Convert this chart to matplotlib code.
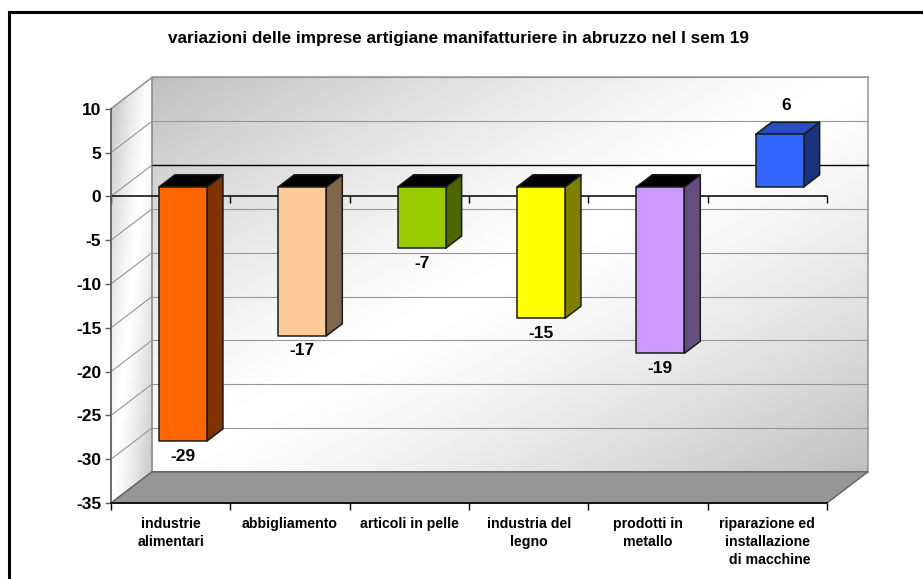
import matplotlib
matplotlib.use("Agg")
import matplotlib.pyplot as plt
import numpy as np
from matplotlib.patches import Polygon, Rectangle

plt.rcParams["font.family"] = ["Liberation Sans", "DejaVu Sans"]
plt.rcParams["font.weight"] = "bold"

TITLE = "variazioni delle imprese artigiane manifatturiere in abruzzo nel I sem 19"
categories = [
    "industrie\nalimentari",
    "abbigliamento",
    "articoli in pelle",
    "industria del\nlegno",
    "prodotti in\nmetallo",
    "riparazione ed\ninstallazione\n di macchine",
]
values = [-29, -17, -7, -15, -19, 6]
y_ticks = [10, 5, 0, -5, -10, -15, -20, -25, -30, -35]

front_colors = ["#FF6600", "#FFCC99", "#99CC00", "#FFFF00", "#CC99FF", "#3366FF"]
side_colors = ["#803300", "#80664D", "#4D6600", "#808000", "#664D80", "#19337F"]
top_colors = ["#000000", "#000000", "#000000", "#000000", "#000000", "#264DBF"]

W, H = 923, 579
# 3d look: how far the back wall is shifted, in category / value units
DEPTH_X = 41 / 119.33
DEPTH_Y = 31.2 / 8.76
BAR_WIDTH = 48 / 119.33


def wall_gradient(x0, x1, y0, y1, clip, ax):
    # grey in two opposite corners, white along the other diagonal
    xs, ys = np.meshgrid(np.linspace(0, 1, 300), np.linspace(0, 1, 300))
    t = (xs + (1 - ys)) / 2
    grey = 1 - 0.25 * (np.abs(t - 0.5) * 2) ** 1.3
    im = ax.imshow(grey, cmap="gray", vmin=0, vmax=1, extent=(x0, x1, y0, y1),
                   origin="lower", aspect="auto", zorder=1)
    # images get cut to the axes box otherwise, the walls stick out of it
    im.set_clip_box(ax.figure.bbox)
    im.set_clip_path(clip)


fig = plt.figure(figsize=(W / 100, H / 100), dpi=100, facecolor="white")
# outer frame of the original slide
fig.add_artist(Rectangle((9 / W, -0.02), 1.1, 1 - 11.5 / H + 0.02, transform=fig.transFigure,
                         fill=False, ec="black", lw=2.2))

ax = fig.add_axes([111 / W, 1 - 503 / H, (827 - 111) / W, (503 - 108.7) / H])
ax.set_facecolor("none")

# walls and floor
back = Rectangle((DEPTH_X, -35 + DEPTH_Y), 6, 45, fc="none", ec="#939393", lw=1.1, zorder=2, clip_on=False)
side = Polygon([(0, -35), (0, 10), (DEPTH_X, 10 + DEPTH_Y), (DEPTH_X, -35 + DEPTH_Y)],
               closed=True, fc="none", ec="#939393", lw=1, zorder=2, clip_on=False)
floor = Polygon([(0, -35), (6, -35), (6 + DEPTH_X, -35 + DEPTH_Y), (DEPTH_X, -35 + DEPTH_Y)],
                closed=True, fc="#969696", ec="#606060", lw=1, zorder=3, clip_on=False)
ax.add_patch(back)
ax.add_patch(side)
ax.add_patch(floor)

ax.set_xlim(0, 6)
ax.set_ylim(-35, 10)
wall_gradient(DEPTH_X, 6 + DEPTH_X, -35 + DEPTH_Y, 10 + DEPTH_Y, back, ax)
wall_gradient(0, DEPTH_X, -35, 10 + DEPTH_Y, side, ax)
ax.set_xlim(0, 6)
ax.set_ylim(-35, 10)

# gridlines on back and side wall
for v in y_ticks[:-1]:
    color = "black" if v == 0 else "#969696"
    lw = 1.0 if v == 0 else 0.8
    ax.plot([DEPTH_X, 6 + DEPTH_X], [v + DEPTH_Y, v + DEPTH_Y], color=color, lw=lw, zorder=3, clip_on=False)
    ax.plot([0, DEPTH_X], [v, v + DEPTH_Y], color="#969696", lw=0.8, zorder=3, clip_on=False)

# zero axis with its own downward ticks
ax.plot([0, 6], [0, 0], color="black", lw=1.1, zorder=4, clip_on=False)
ax.plot(np.arange(7), np.zeros(7), ls="none", marker=3, ms=5, mew=1, color="black", zorder=4, clip_on=False)

# bars, front face at the middle of the depth
for i, (v, fc, sc, tc) in enumerate(zip(values, front_colors, side_colors, top_colors)):
    x0 = i + 0.5 - BAR_WIDTH / 2 + DEPTH_X * 0.3
    x1 = x0 + BAR_WIDTH
    base = DEPTH_Y * 0.3
    dx = DEPTH_X * 0.39
    dy = DEPTH_Y * 0.39
    low, high = sorted((base, base + v))
    kw = dict(closed=True, ec="#1A1A1A", lw=1.1, zorder=5, clip_on=False, joinstyle="round")
    ax.add_patch(Polygon([(x1, low), (x1 + dx, low + dy), (x1 + dx, high + dy), (x1, high)], fc=sc, **kw))
    ax.add_patch(Polygon([(x0, high), (x0 + dx, high + dy), (x1 + dx, high + dy), (x1, high)], fc=tc, **kw))
    ax.add_patch(Polygon([(x0, low), (x1, low), (x1, high), (x0, high)], fc=fc, **kw))
    if v < 0:
        ax.annotate(str(v), ((x0 + x1) / 2, low), xytext=(0, -15 * 0.72), textcoords="offset points",
                    ha="center", va="center", fontsize=12.5, zorder=6, annotation_clip=False)
    else:
        ax.annotate(str(v), ((x0 + x1) / 2, high), xytext=(7 * 0.72, 29 * 0.72), textcoords="offset points",
                    ha="center", va="center", fontsize=12.5, zorder=6, annotation_clip=False)

# axes
for name in ("top", "right"):
    ax.spines[name].set_visible(False)
ax.spines["left"].set_color("#606060")
ax.spines["left"].set_linewidth(1.2)
ax.spines["bottom"].set_color("black")
ax.spines["bottom"].set_linewidth(1.2)
ax.spines["left"].set_zorder(4)
ax.spines["bottom"].set_zorder(4)

ax.set_yticks(y_ticks)
ax.set_yticklabels([str(v) for v in y_ticks], fontsize=12.5)
ax.tick_params(axis="y", length=4.5, width=1, color="#606060", pad=2.5)
ax.set_xticks(np.arange(7))
ax.set_xticklabels([])
ax.set_xticks(np.arange(6) + 0.5, minor=True)
ax.set_xticklabels(categories, minor=True, fontsize=10.2, linespacing=1.38, va="top")
ax.tick_params(axis="x", which="major", length=5, width=1, color="black")
ax.tick_params(axis="x", which="minor", length=0, pad=10)

fig.text(458.5 / W, 1 - 39 / H, TITLE, ha="center", va="center", fontsize=12.3)

fig.savefig("out.png", dpi=100)
